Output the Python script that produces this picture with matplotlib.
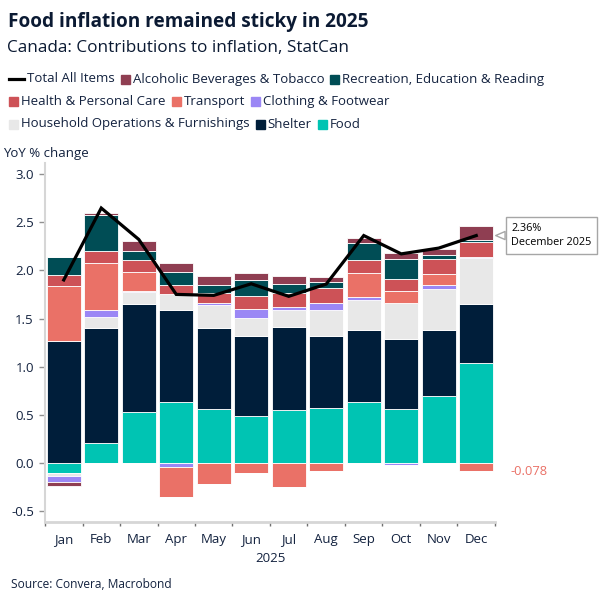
import numpy as np
import matplotlib
matplotlib.use("Agg")
import matplotlib.pyplot as plt
from matplotlib.patches import Rectangle
from matplotlib.lines import Line2D

plt.rcParams['font.family'] = ['Open Sans', 'DejaVu Sans']

## data (percentage point contributions)
months = ['Jan', 'Feb', 'Mar', 'Apr', 'May', 'Jun', 'Jul', 'Aug', 'Sep', 'Oct', 'Nov', 'Dec']
food = [-0.10, 0.21, 0.53, 0.63, 0.565, 0.49, 0.553, 0.574, 0.63, 0.565, 0.70, 1.04]
shelter = [1.27, 1.19, 1.12, 0.954, 0.84, 0.83, 0.86, 0.744, 0.75, 0.72, 0.68, 0.61]
household = [-0.035, 0.12, 0.124, 0.17, 0.235, 0.19, 0.18, 0.273, 0.31, 0.377, 0.43, 0.474]
clothing = [-0.059, 0.07, 0.014, -0.04, 0.02, 0.09, 0.03, 0.073, 0.03, -0.018, 0.035, 0.017]
transport = [0.57, 0.49, 0.197, -0.31, -0.21, -0.097, -0.25, -0.076, 0.25, 0.12, 0.118, -0.078]
health = [0.114, 0.12, 0.124, 0.093, 0.107, 0.135, 0.14, 0.152, 0.135, 0.13, 0.156, 0.156]
recreation = [0.18, 0.37, 0.086, 0.14, 0.083, 0.16, 0.093, 0.059, 0.173, 0.2, 0.041, 0.017]
alcohol = [-0.045, 0.02, 0.104, 0.093, 0.093, 0.08, 0.083, 0.052, 0.059, 0.062, 0.059, 0.145]
total = [1.90, 2.645, 2.32, 1.75, 1.74, 1.86, 1.73, 1.857, 2.36, 2.17, 2.23, 2.36]

# stacking order, bottom to top
series = [
    ('Food', food, '#00c4b3'),
    ('Shelter', shelter, '#001e3a'),
    ('Household Operations & Furnishings', household, '#e8e8e8'),
    ('Clothing & Footwear', clothing, '#9b87f5'),
    ('Transport', transport, '#ea7167'),
    ('Health & Personal Care', health, '#cd5257'),
    ('Recreation, Education & Reading', recreation, '#004d55'),
    ('Alcoholic Beverages & Tobacco', alcohol, '#8f3e52'),
]
colors = {name: c for name, _, c in series}

W, H = 605, 605
TXT = '#13223f'

fig = plt.figure(figsize=(W / 100, H / 100), dpi=100)
ax = fig.add_axes([45 / W, 1 - 522 / H, 450 / W, 359 / H])

x = np.arange(len(months))
pos_bottom = np.zeros(len(months))
neg_bottom = np.zeros(len(months))
for name, vals, c in series:
    v = np.array(vals)
    pos = np.where(v > 0, v, 0)
    neg = np.where(v < 0, v, 0)
    ax.bar(x, pos, 0.9, bottom=pos_bottom, color=c, edgecolor='white', linewidth=0.6, zorder=2)
    ax.bar(x, neg, 0.9, bottom=neg_bottom, color=c, edgecolor='white', linewidth=0.6, zorder=2)
    pos_bottom += pos
    neg_bottom += neg

ax.plot(x, total, color='black', lw=2.3, zorder=4, solid_joinstyle='miter')

ax.set_xlim(-0.5, len(months) - 0.5)
ax.set_ylim(-0.609, 3.112)
ax.set_yticks([-0.5, 0, 0.5, 1.0, 1.5, 2.0, 2.5, 3.0])
ax.set_yticklabels(['%.1f' % t for t in ax.get_yticks()])
ax.set_xticks(x)
ax.set_xticklabels(months)
ax.set_xticks(np.arange(-0.5, len(months)), minor=True)
ax.tick_params(axis='x', which='major', length=0, pad=8, labelsize=9.5, labelcolor=TXT)
ax.tick_params(axis='x', which='minor', length=3, width=1, color='#707070', direction='out')
ax.tick_params(axis='y', length=4, width=1, color='#909090', pad=4, labelsize=9.5, labelcolor=TXT)
ax.set_xlabel('2025', fontsize=9.5, color=TXT, labelpad=4)

for s in ['top', 'right']:
    ax.spines[s].set_visible(False)
ax.spines['left'].set_color('#d6d6d6')
ax.spines['left'].set_linewidth(1.5)
ax.spines['bottom'].set_color('#d6d6d6')
ax.spines['bottom'].set_linewidth(2)

# last value callout
ax.annotate('2.36%\nDecember 2025', xy=(x[-1], total[-1]), xycoords='data',
            xytext=(511, H - 235.5), textcoords='figure pixels',
            ha='left', va='center', fontsize=7.8, color='black', linespacing=1.45,
            bbox=dict(boxstyle='square,pad=0.5', fc='white', ec='#a6a6a6', lw=1),
            arrowprops=dict(arrowstyle='wedge,tail_width=0.75,shrink_factor=0.5',
                            fc='white', ec='#a6a6a6', lw=1, shrinkA=0, shrinkB=14),
            zorder=6, annotation_clip=False)

fig.text(510 / W, 1 - 471.7 / H, '%.3f' % transport[-1], ha='left', va='center',
         fontsize=9.3, color=colors['Transport'])

# titles
fig.text(8 / W, 1 - 22 / H, 'Food inflation remained sticky in 2025', fontsize=13.7,
         fontweight='bold', color='#0b1a33', ha='left', va='center')
fig.text(7 / W, 1 - 48 / H, 'Canada: Contributions to inflation, StatCan', fontsize=12.3,
         color='#0b1a33', ha='left', va='center')
fig.text(3 / W, 1 - 153 / H, 'YoY % change', fontsize=9.5, color=TXT, ha='left', va='center')
fig.text(11 / W, 1 - 584 / H, 'Source: Convera, Macrobond', fontsize=8.6, color=TXT,
         ha='left', va='center')

# legend, three rows laid out left to right
legend_rows = [
    (79, [('Total All Items', 'black', 'line'),
          ('Alcoholic Beverages & Tobacco', colors['Alcoholic Beverages & Tobacco'], 'box'),
          ('Recreation, Education & Reading', colors['Recreation, Education & Reading'], 'box')]),
    (101, [('Health & Personal Care', colors['Health & Personal Care'], 'box'),
           ('Transport', colors['Transport'], 'box'),
           ('Clothing & Footwear', colors['Clothing & Footwear'], 'box')]),
    (124, [('Household Operations & Furnishings', colors['Household Operations & Furnishings'], 'box'),
           ('Shelter', colors['Shelter'], 'box'),
           ('Food', colors['Food'], 'box')]),
]
renderer = fig.canvas.get_renderer()
for ypx, items in legend_rows:
    yf = 1 - ypx / H
    cx = 9
    for label, c, kind in items:
        if kind == 'line':
            fig.add_artist(Line2D([cx / W, (cx + 15) / W], [yf, yf], color=c, lw=2.3,
                                  transform=fig.transFigure))
            cx += 18
        else:
            fig.add_artist(Rectangle((cx / W, yf - 4.5 / H), 9 / W, 9 / H, color=c,
                                     transform=fig.transFigure))
            cx += 12
        t = fig.text(cx / W, yf, label, fontsize=9.5, color=TXT, ha='left', va='center')
        cx += t.get_window_extent(renderer).width + 6

fig.savefig('out.png', dpi=100)
plt.close(fig)
